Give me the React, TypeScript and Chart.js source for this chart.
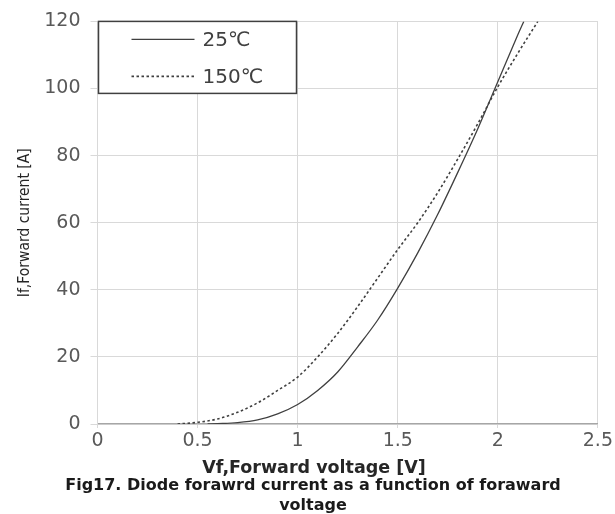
import React, { useEffect, useRef } from "react";
import { Chart, registerables } from "chart.js";

Chart.register(...registerables);

// ---- data ----
const SERIES_LABELS = ["25℃", "150℃"];
const V_25 = [0.55, 0.6, 0.7, 0.8, 0.9, 1.0, 1.1, 1.2, 1.3, 1.4, 1.5, 1.6, 1.7, 1.8, 1.9, 2.0, 2.1, 2.13];
const I_25 = [0, 0.1, 0.4, 1.2, 3, 5.8, 10, 15.5, 23, 31, 40.5, 51, 62.5, 75, 88, 102, 116, 120];
const V_150 = [0.4, 0.5, 0.6, 0.7, 0.8, 0.9, 1.0, 1.1, 1.2, 1.3, 1.4, 1.5, 1.6, 1.7, 1.8, 1.9, 2.0, 2.1, 2.2];
const I_150 = [0, 0.5, 1.5, 3.5, 6.3, 10, 14, 20, 27, 35, 43.5, 52, 60, 69, 79, 89.5, 100.5, 110.5, 120];
const X_TICKS = [0, 0.5, 1, 1.5, 2, 2.5];
const Y_TICKS = [0, 20, 40, 60, 80, 100, 120];
const X_TITLE = "Vf,Forward voltage [V]";
const Y_TITLE = "If,Forward current [A]";
const CAPTION = ["Fig17. Diode forawrd current as a function of foraward", "voltage"];

const LINE_COLOR = "#404040";
const GRID_COLOR = "#d9d9d9";
const TICK_COLOR = "#595959";

const legendBoxPlugin = {
  id: "legendBox",
  afterDatasetsDraw(chart: any) {
    const { ctx, chartArea: ca } = chart;
    ctx.save();
    const bx = ca.left + 1;
    const by = ca.top;
    const bw = 198;
    const bh = 72;
    ctx.fillStyle = "#ffffff";
    ctx.fillRect(bx, by, bw, bh);
    ctx.strokeStyle = LINE_COLOR;
    ctx.lineWidth = 1.5;
    ctx.strokeRect(bx, by, bw, bh);
    const rows = [by + 18, by + 55];
    chart.data.datasets.forEach((ds: any, i: number) => {
      const y = rows[i];
      ctx.beginPath();
      ctx.strokeStyle = ds.borderColor;
      ctx.lineWidth = ds.borderWidth;
      ctx.setLineDash(ds.borderDash || []);
      ctx.moveTo(bx + 33, y);
      ctx.lineTo(bx + 96, y);
      ctx.stroke();
      ctx.setLineDash([]);
      ctx.fillStyle = LINE_COLOR;
      ctx.font = '20px "DejaVu Sans"';
      ctx.textAlign = "left";
      ctx.textBaseline = "middle";
      ctx.fillText(ds.label, bx + 104, y + 1);
    });
    ctx.restore();
  },
};

const bottomTextPlugin = {
  id: "bottomText",
  afterDraw(chart: any) {
    const { ctx, chartArea: ca } = chart;
    ctx.save();
    const cx = 314;
    ctx.textAlign = "center";
    ctx.textBaseline = "middle";
    ctx.fillStyle = "#262626";
    ctx.font = 'bold 17.5px "DejaVu Sans"';
    ctx.fillText(X_TITLE, cx, ca.bottom + 44);
    ctx.fillStyle = "#1a1a1a";
    ctx.font = 'bold 16px "DejaVu Sans"';
    CAPTION.forEach((line, i) => {
      ctx.fillText(line, cx - 1, ca.bottom + 62 + i * 20);
    });
    ctx.restore();
  },
};

export default function App() {
  const ref = useRef<HTMLCanvasElement | null>(null);
  useEffect(() => {
    document.body.style.margin = "0";
    if (!ref.current) return;
    const chart = new Chart(ref.current, {
      type: "scatter",
      data: {
        datasets: [
          {
            label: SERIES_LABELS[0],
            data: V_25.map((v, i) => ({ x: v, y: I_25[i] })),
            showLine: true,
            borderColor: LINE_COLOR,
            borderWidth: 1.3,
            pointRadius: 0,
            cubicInterpolationMode: "monotone",
            fill: false,
          },
          {
            label: SERIES_LABELS[1],
            data: V_150.map((v, i) => ({ x: v, y: I_150[i] })),
            showLine: true,
            borderColor: LINE_COLOR,
            borderWidth: 1.6,
            borderDash: [2.5, 2.5],
            pointRadius: 0,
            cubicInterpolationMode: "monotone",
            fill: false,
          },
        ],
      },
      options: {
        animation: false,
        responsive: false,
        devicePixelRatio: 1,
        layout: { padding: { left: 0, right: 17, top: 19, bottom: 0 } },
        plugins: {
          legend: { display: false },
          tooltip: { enabled: false },
          title: { display: false },
        },
        scales: {
          x: {
            type: "linear",
            min: 0,
            max: 2.5,
            afterBuildTicks: (scale: any) => {
              scale.ticks = X_TICKS.map((v) => ({ value: v }));
            },
            afterFit: (scale: any) => {
              scale.height = 90;
            },
            ticks: {
              color: TICK_COLOR,
              font: { family: "DejaVu Sans", size: 19 },
              padding: 2,
              maxRotation: 0,
              autoSkip: false,
              callback: (v: any) => String(Number(v)),
            },
            grid: { color: GRID_COLOR, lineWidth: 1, tickLength: 4, drawTicks: true },
            border: { color: "#a6a6a6", width: 1.2 },
            title: { display: false },
          },
          y: {
            type: "linear",
            min: 0,
            max: 120,
            afterBuildTicks: (scale: any) => {
              scale.ticks = Y_TICKS.map((v) => ({ value: v }));
            },
            afterFit: (scale: any) => {
              scale.width = 97.5;
            },
            ticks: {
              color: TICK_COLOR,
              font: { family: "DejaVu Sans", size: 19 },
              padding: 10,
              autoSkip: false,
              callback: (v: any) => String(v),
            },
            grid: { color: GRID_COLOR, lineWidth: 1, tickLength: 7, drawTicks: true },
            border: { color: GRID_COLOR, width: 1 },
            title: {
              display: true,
              text: Y_TITLE,
              color: "#262626",
              font: { family: "DejaVu Sans Condensed, Liberation Sans Narrow, sans-serif", size: 15.5 },
              padding: { top: 16, bottom: 0 },
            },
          },
        },
      },
      plugins: [legendBoxPlugin, bottomTextPlugin],
    } as any);
    return () => chart.destroy();
  }, []);
  return (
    <div style={{ position: "absolute", left: 0, top: 0, width: 615, height: 514 }}>
      <canvas ref={ref} width={615} height={514} style={{ display: "block" }} />
    </div>
  );
}
